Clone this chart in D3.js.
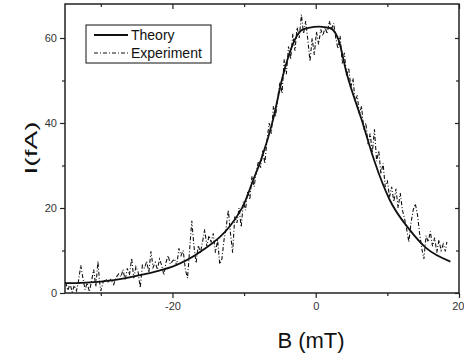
<!DOCTYPE html>
<html>
<head>
<meta charset="utf-8">
<script src="https://d3js.org/d3.v7.min.js"></script>
<style>
  body { margin: 0; background: #fff; }
  text { font-family: Arial, "Liberation Sans", sans-serif; }
</style>
</head>
<body>
<svg id="chart"></svg>
<script>
// theory curve (B in mT, I in fA)
const theoryB = [-35, -30, -26, -22, -20, -16, -12, -10, -8.7, -7.6, -6, -4.6, -3.2, -2, -1, 0.5, 2, 2.8, 3.2, 4.3, 6.4, 8.2, 10.3, 13.1, 15.4, 18.8];
const theoryI = [2.3, 2.7, 3.7, 5.2, 6.2, 9.8, 15.7, 21, 26.7, 31.5, 40.5, 51, 58.5, 61.8, 62.4, 62.7, 62.3, 61, 59.5, 51.8, 40.8, 31, 22, 14.9, 10.6, 7.4];

// measured points
const expB = [-34.9, -34.6, -34.3, -34.0, -33.7, -33.4, -33.1, -32.8, -32.5, -32.2, -31.9, -31.6, -31.3, -31.0, -30.7, -30.4, -30.2, -30.0, -29.7, -29.3,
  -29.0, -28.6, -28.2, -27.9, -27.5, -27.2, -26.9, -26.6, -26.3, -26.0, -25.7, -25.4, -25.1, -24.8, -24.5, -24.2, -23.9, -23.6, -23.3, -23.0,
  -22.7, -22.4, -22.1, -21.8, -21.5, -21.2, -20.9, -20.6, -20.3, -20.0, -19.7, -19.4, -19.1, -18.8, -18.5, -18.2, -17.9, -17.6, -17.3, -17.0,
  -16.7, -16.4, -16.1, -15.8, -15.5, -15.2, -14.9, -14.6, -14.3, -14.0, -13.7, -13.4, -13.1, -12.8, -12.5, -12.2, -11.9, -11.6, -11.3, -11.0,
  -10.7, -10.4, -10.1, -9.8, -9.5, -9.2, -8.9, -8.6, -8.3, -8.0, -7.7, -7.4, -7.1, -6.8, -6.5, -6.2, -5.9, -5.6, -5.3, -5.0,
  -4.7, -4.4, -4.1, -3.8, -3.5, -3.2, -2.9, -2.6, -2.3, -2.0, -1.7, -1.4, -1.1, -0.8, -0.5, -0.2, 0.1, 0.4, 0.7, 1.0,
  1.3, 1.6, 1.9, 2.2, 2.5, 2.8, 3.1, 3.4, 3.7, 4.0, 4.3, 4.6, 4.9, 5.2, 5.5, 5.8, 6.1, 6.4, 6.7, 7.0,
  7.3, 7.6, 7.9, 8.2, 8.5, 8.8, 9.1, 9.4, 9.7, 10.0, 10.3, 10.6, 10.9, 11.2, 11.5, 11.8, 12.1, 12.4, 12.7, 13.0,
  13.3, 13.6, 13.9, 14.2, 14.5, 14.8, 15.1, 15.4, 15.7, 16.0, 16.3, 16.6, 16.9, 17.2, 17.5, 17.8, 18.1, 18.3];
const expI = [2.5, 0.6, 2.2, 0.2, 1.8, 0.5, 3.0, 6.5, 3.5, 0.8, 2.4, 0.3, 2.8, 5.5, 1.5, 7.5, 3.0, 0.5, 2.5, 3.3,
  2.6, 3.2, 2.0, 3.6, 4.5, 3.8, 5.5, 3.0, 5.8, 4.2, 8.2, 3.5, 6.2, 5.0, 1.2, 6.5, 5.8, 7.5, 4.8, 9.8,
  6.0, 7.2, 5.5, 8.0, 6.5, 4.2, 7.2, 8.8, 6.8, 7.5, 8.0, 6.5, 10.5, 8.8, 10.0, 5.5, 3.5, 10.2, 17.0, 11.0,
  7.0, 11.2, 9.5, 12.0, 15.0, 11.0, 13.5, 12.0, 14.0, 9.5, 12.5, 6.8, 8.0, 12.5, 15.5, 19.5, 14.0, 9.5, 18.0, 16.5,
  20.0, 15.5, 21.5, 19.5, 24.0, 22.0, 27.5, 25.0, 28.5, 31.0, 29.5, 33.5, 30.5, 36.0, 40.0, 37.5, 44.0, 41.5, 46.0, 49.5,
  47.0, 55.0, 51.5, 58.0, 55.0, 61.0, 57.0, 62.5, 60.0, 65.5, 61.0, 64.0, 59.5, 54.5, 60.0, 56.0, 61.5, 58.5, 62.0, 60.5,
  62.5, 61.0, 64.0, 62.0, 63.5, 60.0, 57.5, 60.5, 54.0, 56.5, 51.0, 53.0, 48.5, 50.5, 45.0, 46.5, 42.0, 44.0, 38.5, 40.0,
  35.0, 37.5, 33.0, 38.5, 31.0, 33.5, 28.0, 30.5, 25.0, 26.5, 22.5, 25.0, 21.5, 24.5, 20.0, 23.5, 19.5, 17.5, 15.0, 12.0,
  16.5, 19.5, 21.0, 18.5, 14.0, 10.5, 8.0, 13.5, 12.0, 14.5, 11.0, 13.0, 9.5, 12.5, 10.0, 11.5, 9.8, 12.0];

const xMajor = [-20, 0, 20];
const xMinor = [-30, -10, 10];
const yMajor = [0, 20, 40, 60];
const yMinor = [10, 30, 50];
const seriesNames = ["Theory", "Experiment"];

const W = 464, H = 358;
const mLeft = 65, mRight = 459, mTop = 4, mBottom = 293;

const svg = d3.select("#chart").attr("width", W).attr("height", H);

const x = d3.scaleLinear().domain([-35, 20]).range([mLeft, mRight]);
const y = d3.scaleLinear().domain([0, 68]).range([mBottom, mTop]);

svg.append("clipPath").attr("id", "clip")
  .append("rect").attr("x", mLeft).attr("y", mTop).attr("width", mRight - mLeft).attr("height", mBottom - mTop);

const fmt = d => d;
const tickColor = "#222";

// bottom axis (outward ticks)
const gB = svg.append("g").attr("transform", `translate(0,${mBottom})`);
gB.call(d3.axisBottom(x).tickValues(xMajor).tickSize(5).tickPadding(4).tickFormat(fmt));
gB.append("g").call(d3.axisBottom(x).tickValues(xMinor).tickSize(3).tickFormat(""));
// top axis (inward ticks)
const gT = svg.append("g").attr("transform", `translate(0,${mTop})`);
gT.call(d3.axisBottom(x).tickValues(xMajor).tickSize(5).tickFormat(""));
gT.append("g").call(d3.axisBottom(x).tickValues(xMinor).tickSize(3).tickFormat(""));
// left axis (outward ticks)
const gL = svg.append("g").attr("transform", `translate(${mLeft},0)`);
gL.call(d3.axisLeft(y).tickValues(yMajor).tickSize(5).tickPadding(3).tickFormat(fmt));
gL.append("g").call(d3.axisLeft(y).tickValues(yMinor).tickSize(3).tickFormat(""));
// right axis (inward ticks)
const gR = svg.append("g").attr("transform", `translate(${mRight},0)`);
gR.call(d3.axisLeft(y).tickValues(yMajor).tickSize(4).tickFormat(""));
gR.append("g").call(d3.axisLeft(y).tickValues(yMinor).tickSize(3).tickFormat(""));

svg.selectAll(".domain").remove();
svg.selectAll(".tick line").attr("stroke", tickColor).attr("stroke-width", 1.2);
svg.selectAll(".tick text").attr("font-size", 11).attr("fill", "#333")
  .attr("font-family", "Arial, 'Liberation Sans', sans-serif");
// last label sits on the window edge; nudge it in so it stays whole
gB.selectAll(".tick text").filter(d => d === 20).attr("text-anchor", "end").attr("x", 464 - mRight);

// frame
svg.append("rect")
  .attr("x", mLeft).attr("y", mTop)
  .attr("width", mRight - mLeft).attr("height", mBottom - mTop)
  .attr("fill", "none").attr("stroke", tickColor).attr("stroke-width", 1.5);

const plot = svg.append("g").attr("clip-path", "url(#clip)");

const expLine = d3.line().x(i => x(expB[i])).y(i => y(expI[i]));
plot.append("path")
  .attr("d", expLine(d3.range(expB.length)))
  .attr("fill", "none").attr("stroke", "#111").attr("stroke-width", 1.1)
  .attr("stroke-dasharray", "4,2,1,2");

const thLine = d3.line().x(i => x(theoryB[i])).y(i => y(theoryI[i])).curve(d3.curveMonotoneX);
plot.append("path")
  .attr("d", thLine(d3.range(theoryB.length)))
  .attr("fill", "none").attr("stroke", "#111").attr("stroke-width", 1.8);

// legend
const lg = svg.append("g");
lg.append("rect").attr("x", 86).attr("y", 25).attr("width", 125).attr("height", 38)
  .attr("fill", "#fff").attr("stroke", "#111").attr("stroke-width", 1);
lg.append("line").attr("x1", 94).attr("x2", 128).attr("y1", 35).attr("y2", 35)
  .attr("stroke", "#111").attr("stroke-width", 1.8);
lg.append("line").attr("x1", 94).attr("x2", 128).attr("y1", 53).attr("y2", 53)
  .attr("stroke", "#111").attr("stroke-width", 1).attr("stroke-dasharray", "4,2,1,2");
lg.selectAll("text.lab").data(seriesNames).join("text")
  .attr("class", "lab")
  .attr("x", 131).attr("y", (d, i) => 40 + i * 18)
  .attr("font-size", 14).attr("fill", "#111")
  .text(d => d);

// axis titles
svg.append("text")
  .attr("x", 311).attr("y", 348).attr("text-anchor", "middle")
  .attr("font-size", 22).attr("fill", "#111")
  .text("B (mT)");
svg.append("text")
  .attr("transform", "translate(37,148) rotate(-90)")
  .attr("text-anchor", "middle")
  .attr("font-size", 16).attr("fill", "#111")
  .attr("textLength", 53).attr("lengthAdjust", "spacingAndGlyphs")
  .text("I(fA)");
</script>
</body>
</html>
